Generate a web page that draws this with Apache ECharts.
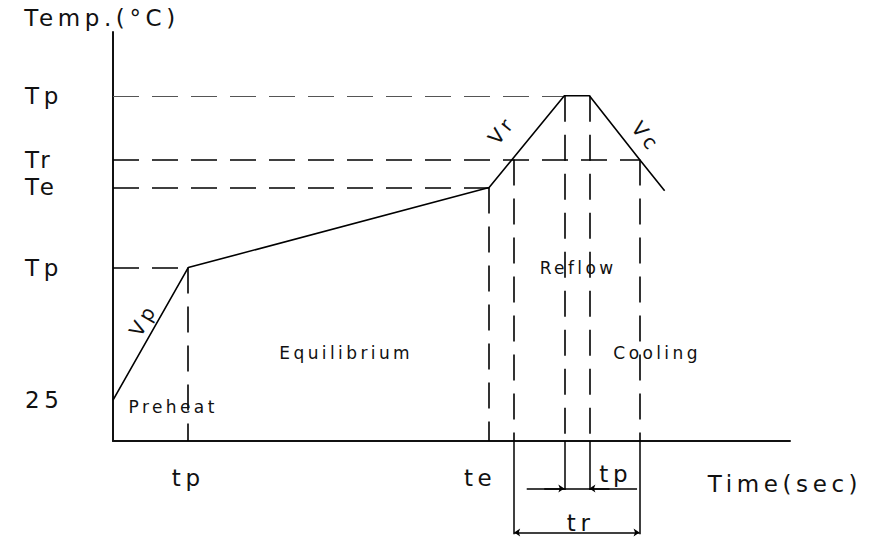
<!DOCTYPE html>
<html>
<head>
<meta charset="utf-8">
<script src="https://cdn.jsdelivr.net/npm/echarts@6/dist/echarts.min.js"></script>
<style>
  html, body { margin: 0; padding: 0; background: #fff; }
  #main { width: 879px; height: 537px; }
  /* the original uses a wide plotter font */
  #main text { letter-spacing: 0.2em; }
</style>
</head>
<body>
<div id="main"></div>
<script>
const chartDom = document.getElementById('main');
const myChart = echarts.init(chartDom, null, { renderer: 'svg' });

// reflow profile, time (sec) vs temperature (schematic units)
const profileTime = [0, 30, 150, 180, 190, 210, 220];
const profileTemp = [25, 106, 155, 211, 211, 172, 153];

// temperature levels on the y axis
const tempLevels = [25, 106, 155, 172, 211];
const tempNames = ['25', 'Tp', 'Te', 'Tr', 'Tp'];

// time marks on the x axis
const timeMarks = [30, 150];
const timeNames = ['tp', 'te'];

// dashed guide lines [x1, y1, x2, y2]
const guides = [
    [0, 211, 180, 211],
    [0, 172, 210, 172],
    [0, 155, 150, 155],
    [0, 106, 30, 106],
    [30, 106, 30, 0],
    [150, 155, 150, 0],
    [160, 172, 160, 0],
    [180, 211, 180, 0],
    [190, 211, 190, 0],
    [210, 172, 210, 0]
];

// dimension lines below the axis
const dimLines = [
    [160, 0, 160, -57],
    [210, 0, 210, -57],
    [180, 0, 180, -30],
    [190, 0, 190, -30],
    [165, -29, 209, -29]
];
const tpArrows = [
    [172, -29, 180, -29],
    [198, -29, 190, -29]
];
const trArrow = [160, -56, 210, -56];

// text annotations [text, x, y, rotate]
const zoneNotes = [
    ['Preheat', 24, 21, 0],
    ['Equilibrium', 93, 54, 0],
    ['Reflow', 185.5, 106, 0],
    ['Cooling', 217, 54, 0]
];
const rateNotes = [
    ['Vp', 12, 74, 60],
    ['Vr', 155, 190, 51],
    ['Vc', 212.5, 186, -52]
];
const dimNotes = [
    ['tp', 200.5, -20, 0],
    ['tr', 186.5, -50, 0],
    ['Time(sec)', 268, -26, 0]
];

const seg = s => ({ coords: [[s[0], s[1]], [s[2], s[3]]] });
const font = 'DejaVu Sans';
const ink = '#111';

const textSeries = (notes, size) => ({
    type: 'scatter',
    symbolSize: 0,
    clip: false,
    silent: true,
    itemStyle: { opacity: 1 },
    data: notes.map(n => ({
        name: n[0],
        value: [n[1], n[2]],
        label: { rotate: n[3] }
    })),
    label: {
        show: true,
        position: 'inside',
        formatter: '{b}',
        fontFamily: font,
        fontSize: size,
        color: ink,
        opacity: 1
    }
});

const option = {
    animation: false,
    backgroundColor: '#fff',
    grid: { left: 113, right: 89, top: 32, bottom: 96 },
    xAxis: {
        type: 'value',
        min: 0,
        max: 270,
        axisLine: { onZero: false, lineStyle: { color: ink, width: 2 } },
        axisTick: { show: false },
        splitLine: { show: false },
        axisLabel: {
            customValues: timeMarks,
            margin: 25,
            fontFamily: font,
            fontSize: 23,
            color: ink,
            formatter: v => {
                const n = timeNames[timeMarks.indexOf(v)];
                return n === 'te' ? '{te|te}' : n;
            },
            rich: { te: { fontFamily: font, fontSize: 23, color: ink, padding: [0, 18, 0, 0] } }
        }
    },
    yAxis: {
        type: 'value',
        min: 0,
        max: 250,
        name: 'Temp.(°C)',
        nameLocation: 'end',
        nameGap: 3,
        nameTextStyle: {
            fontFamily: font, fontSize: 23, color: ink,
            align: 'center', padding: [0, 22, 0, 0]
        },
        axisLine: { show: true, onZero: false, lineStyle: { color: ink, width: 2 } },
        axisTick: { show: false },
        splitLine: { show: false },
        axisLabel: {
            customValues: tempLevels,
            margin: 88,
            align: 'left',
            fontFamily: font,
            fontSize: 23,
            color: ink,
            formatter: v => tempNames[tempLevels.indexOf(v)]
        }
    },
    series: [
        {
            type: 'lines',
            coordinateSystem: 'cartesian2d',
            clip: false,
            silent: true,
            lineStyle: { color: '#000', width: 1.6, type: [26, 13], opacity: 1 },
            data: guides.map((g, i) => i === 0
                ? Object.assign(seg(g), { lineStyle: { color: '#555', width: 1.1 } })
                : seg(g))
        },
        {
            type: 'lines',
            coordinateSystem: 'cartesian2d',
            clip: false,
            silent: true,
            lineStyle: { color: '#000', width: 1.5, opacity: 1 },
            data: dimLines.map(seg)
        },
        {
            type: 'lines',
            coordinateSystem: 'cartesian2d',
            clip: false,
            silent: true,
            symbol: ['none', 'arrow'],
            symbolSize: 6,
            lineStyle: { color: '#000', width: 1.5, opacity: 1 },
            data: tpArrows.map(seg)
        },
        {
            type: 'lines',
            coordinateSystem: 'cartesian2d',
            clip: false,
            silent: true,
            symbol: ['arrow', 'arrow'],
            symbolSize: 6,
            lineStyle: { color: '#000', width: 1.5, opacity: 1 },
            data: [seg(trArrow)]
        },
        {
            type: 'line',
            showSymbol: false,
            clip: false,
            lineStyle: { color: '#000', width: 1.6 },
            data: profileTime.map((t, i) => [t, profileTemp[i]])
        },
        textSeries(zoneNotes, 17),
        textSeries(rateNotes, 20),
        textSeries(dimNotes, 23)
    ]
};

myChart.setOption(option);
window.onresize = () => myChart.resize();
</script>
</body>
</html>
